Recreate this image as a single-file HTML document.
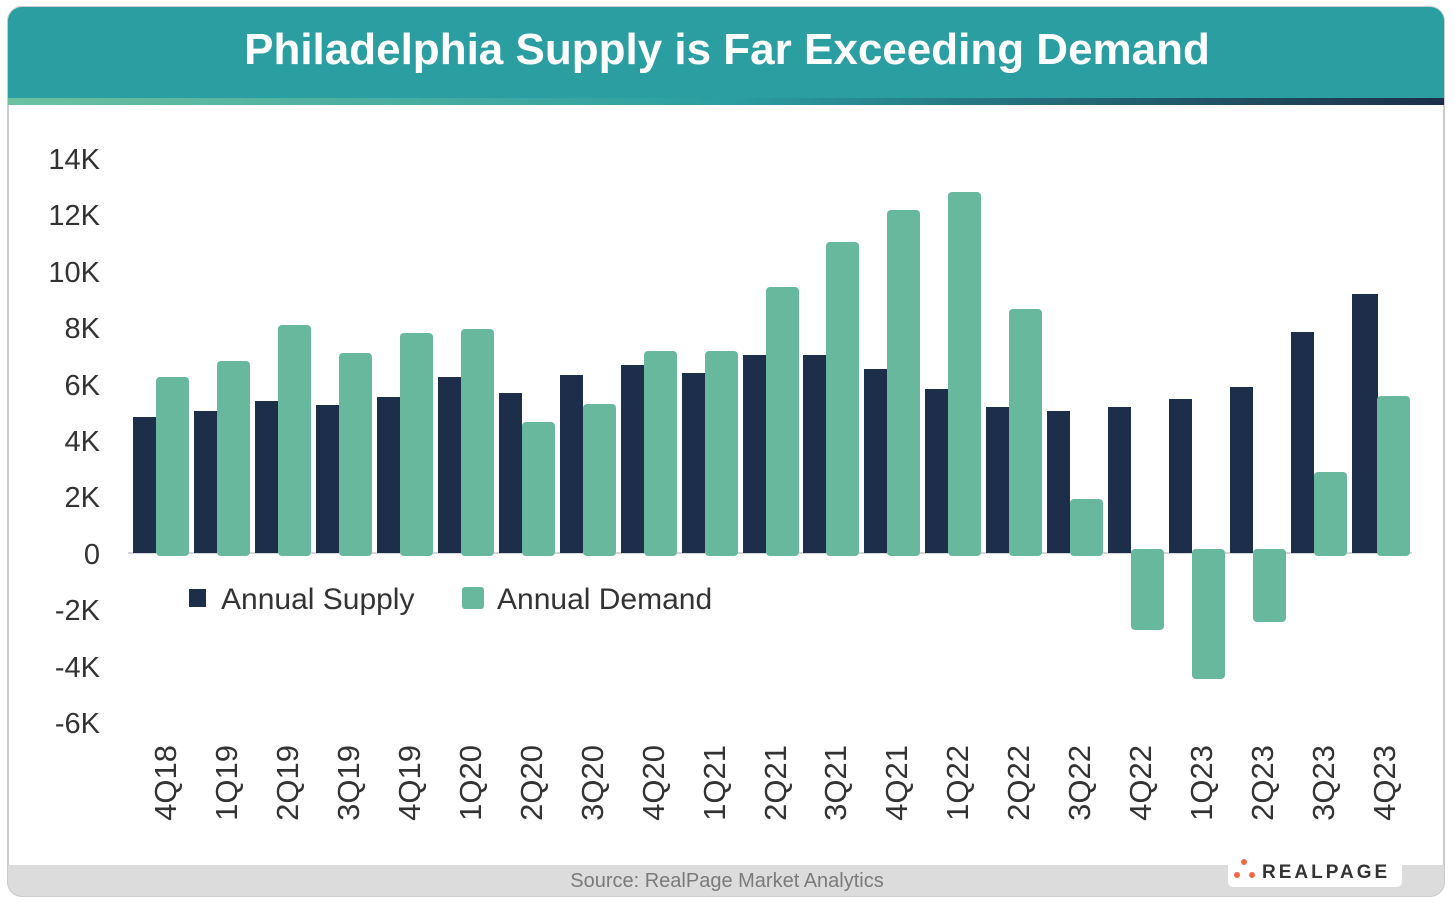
<!DOCTYPE html><html><head><style>
body{margin:0;width:1455px;height:903px;background:#fff;font-family:"Liberation Sans",sans-serif;overflow:hidden}
</style></head><body>
<svg width="1455" height="903" xmlns="http://www.w3.org/2000/svg">
<defs><linearGradient id="g" x1="0" x2="1"><stop offset="0" stop-color="#6cc0a0"/><stop offset="0.5" stop-color="#2b9ea2"/><stop offset="1" stop-color="#1c2e4a"/></linearGradient>
<clipPath id="c"><rect x="8" y="7" width="1436" height="889" rx="14"/></clipPath></defs>
<rect x="8" y="7" width="1436" height="889" rx="14" fill="#fff" stroke="#ccc" stroke-width="2"/>
<g clip-path="url(#c)">
<rect x="8" y="7" width="1436" height="92" fill="#2b9ea2"/>
<rect x="8" y="98" width="1436" height="7" fill="url(#g)"/>
<rect x="8" y="865" width="1436" height="31" fill="#dcdcdd"/>
</g>
<text x="727" y="64" text-anchor="middle" font-size="44" font-weight="bold" fill="#fff">Philadelphia Supply is Far Exceeding Demand</text>
<g font-size="29" fill="#333" text-anchor="end">
<text x="100" y="169">14K</text><text x="100" y="225">12K</text><text x="100" y="282">10K</text><text x="100" y="338">8K</text><text x="100" y="395">6K</text><text x="100" y="451">4K</text><text x="100" y="507">2K</text><text x="100" y="564">0</text><text x="100" y="620">-2K</text><text x="100" y="677">-4K</text><text x="100" y="733">-6K</text>
</g>
<line x1="128" y1="553" x2="1412" y2="553" stroke="#d6d6d6" stroke-width="2"/>
<g fill="#1c2e4a">
<rect x="133" y="417" width="23" height="136"/>
<rect x="194" y="411" width="23" height="142"/>
<rect x="255" y="401" width="23" height="152"/>
<rect x="316" y="405" width="23" height="148"/>
<rect x="377" y="397" width="23" height="156"/>
<rect x="438" y="377" width="23" height="176"/>
<rect x="499" y="393" width="23" height="160"/>
<rect x="560" y="375" width="23" height="178"/>
<rect x="621" y="365" width="23" height="188"/>
<rect x="682" y="373" width="23" height="180"/>
<rect x="743" y="355" width="23" height="198"/>
<rect x="803" y="355" width="23" height="198"/>
<rect x="864" y="369" width="23" height="184"/>
<rect x="925" y="389" width="23" height="164"/>
<rect x="986" y="407" width="23" height="146"/>
<rect x="1047" y="411" width="23" height="142"/>
<rect x="1108" y="407" width="23" height="146"/>
<rect x="1169" y="399" width="23" height="154"/>
<rect x="1230" y="387" width="23" height="166"/>
<rect x="1291" y="332" width="23" height="221"/>
<rect x="1352" y="294" width="26" height="259"/>
</g>
<g fill="#68b89d">
<rect x="156" y="377" width="33" height="179" rx="4"/>
<rect x="217" y="361" width="33" height="195" rx="4"/>
<rect x="278" y="325" width="33" height="231" rx="4"/>
<rect x="339" y="353" width="33" height="203" rx="4"/>
<rect x="400" y="333" width="33" height="223" rx="4"/>
<rect x="461" y="329" width="33" height="227" rx="4"/>
<rect x="522" y="422" width="33" height="134" rx="4"/>
<rect x="583" y="404" width="33" height="152" rx="4"/>
<rect x="644" y="351" width="33" height="205" rx="4"/>
<rect x="705" y="351" width="33" height="205" rx="4"/>
<rect x="766" y="287" width="33" height="269" rx="4"/>
<rect x="826" y="242" width="33" height="314" rx="4"/>
<rect x="887" y="210" width="33" height="346" rx="4"/>
<rect x="948" y="192" width="33" height="364" rx="4"/>
<rect x="1009" y="309" width="33" height="247" rx="4"/>
<rect x="1070" y="499" width="33" height="57" rx="4"/>
<rect x="1131" y="549" width="33" height="81" rx="4"/>
<rect x="1192" y="549" width="33" height="130" rx="4"/>
<rect x="1253" y="549" width="33" height="73" rx="4"/>
<rect x="1314" y="472" width="33" height="84" rx="4"/>
<rect x="1377" y="396" width="33" height="160" rx="4"/>
</g>
<g font-size="31" fill="#333" text-anchor="end">
<text transform="translate(176,745) rotate(-90)">4Q18</text>
<text transform="translate(237,745) rotate(-90)">1Q19</text>
<text transform="translate(298,745) rotate(-90)">2Q19</text>
<text transform="translate(359,745) rotate(-90)">3Q19</text>
<text transform="translate(420,745) rotate(-90)">4Q19</text>
<text transform="translate(481,745) rotate(-90)">1Q20</text>
<text transform="translate(542,745) rotate(-90)">2Q20</text>
<text transform="translate(603,745) rotate(-90)">3Q20</text>
<text transform="translate(664,745) rotate(-90)">4Q20</text>
<text transform="translate(725,745) rotate(-90)">1Q21</text>
<text transform="translate(786,745) rotate(-90)">2Q21</text>
<text transform="translate(846,745) rotate(-90)">3Q21</text>
<text transform="translate(907,745) rotate(-90)">4Q21</text>
<text transform="translate(968,745) rotate(-90)">1Q22</text>
<text transform="translate(1029,745) rotate(-90)">2Q22</text>
<text transform="translate(1090,745) rotate(-90)">3Q22</text>
<text transform="translate(1151,745) rotate(-90)">4Q22</text>
<text transform="translate(1212,745) rotate(-90)">1Q23</text>
<text transform="translate(1273,745) rotate(-90)">2Q23</text>
<text transform="translate(1334,745) rotate(-90)">3Q23</text>
<text transform="translate(1395,745) rotate(-90)">4Q23</text>
</g>
<rect x="189" y="589" width="17" height="18" fill="#1c2e4a"/>
<text x="221" y="609" font-size="30" fill="#333">Annual Supply</text>
<rect x="462" y="587" width="22" height="22" rx="3" fill="#68b89d"/>
<text x="497" y="609" font-size="30" fill="#333">Annual Demand</text>
<text x="727" y="887" text-anchor="middle" font-size="20" fill="#7a7a7a">Source: RealPage Market Analytics</text>
<rect x="1228" y="858" width="174" height="29" rx="5" fill="#fff"/>
<circle cx="1244" cy="862" r="3" fill="#ee6a45"/><circle cx="1237" cy="875" r="3" fill="#ee6a45"/><circle cx="1252" cy="875" r="3" fill="#ee6a45"/>
<text x="1262" y="878" font-size="19" font-weight="bold" fill="#333" letter-spacing="3">REALPAGE</text>
</svg>
</body></html>
